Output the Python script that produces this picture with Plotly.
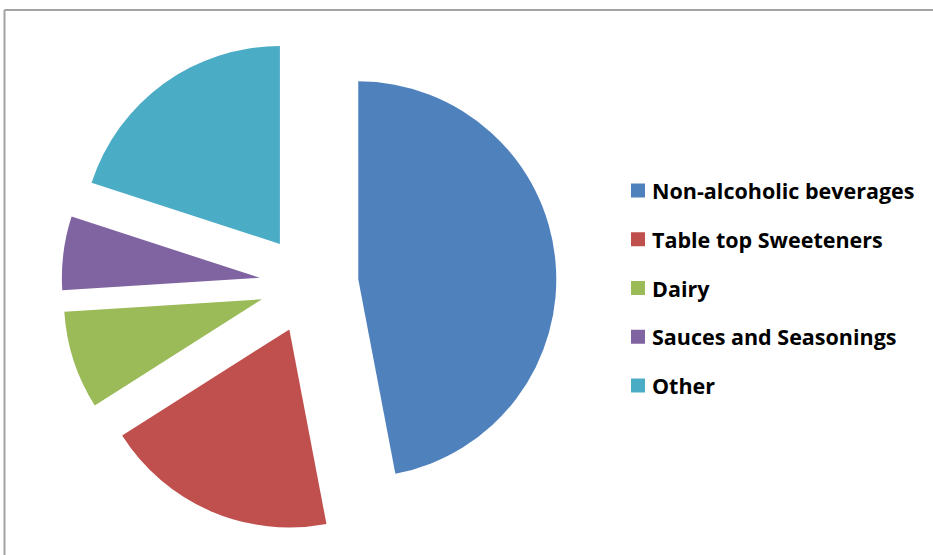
import plotly.graph_objects as go

categories = ["Non-alcoholic beverages", "Table top Sweeteners", "Dairy",
              "Sauces and Seasonings", "Other"]
shares = [47, 19, 8, 6, 20]
colors = ["#4F81BD", "#C0504D", "#9BBB59", "#8064A2", "#4BACC6"]

W, H = 933, 555

fig = go.Figure(go.Pie(
    labels=categories,
    values=shares,
    marker=dict(colors=colors, line=dict(width=0)),
    sort=False,
    direction="clockwise",
    rotation=0,
    pull=[0.25] * len(shares),
    textinfo="none",
    hoverinfo="label+percent",
    showlegend=False,
    domain=dict(x=[61.5 / W, 556.5 / W], y=[(H - 284 - 247.5) / H, (H - 284 + 247.5) / H]),
))

shapes = [
    dict(type="line", xref="paper", yref="paper", x0=4.5 / W, x1=1, y0=1 - 10 / H, y1=1 - 10 / H,
         line=dict(color="#a3a3a3", width=2)),
    dict(type="line", xref="paper", yref="paper", x0=4.5 / W, x1=4.5 / W, y0=0, y1=1 - 10 / H,
         line=dict(color="#a3a3a3", width=2)),
]
annotations = []
y0, dy = 190.5, 48.75
for i, (cat, col) in enumerate(zip(categories, colors)):
    yc = y0 + i * dy
    shapes.append(dict(type="rect", xref="paper", yref="paper",
                       x0=631 / W, x1=645 / W, y0=1 - (yc + 7) / H, y1=1 - (yc - 7) / H,
                       fillcolor=col, line=dict(width=0)))
    annotations.append(dict(xref="paper", yref="paper", x=650 / W, y=1 - yc / H,
                            xanchor="left", yanchor="middle", showarrow=False,
                            text="<b>" + cat + "</b>",
                            font=dict(family="Open Sans", size=21.5, color="#000000")))

fig.update_layout(
    width=W, height=H,
    margin=dict(l=0, r=0, t=0, b=0),
    paper_bgcolor="white",
    plot_bgcolor="white",
    shapes=shapes,
    annotations=annotations,
)

fig.write_html("out.html", config={"displayModeBar": False},
               post_script="document.body.style.margin='0px';")
